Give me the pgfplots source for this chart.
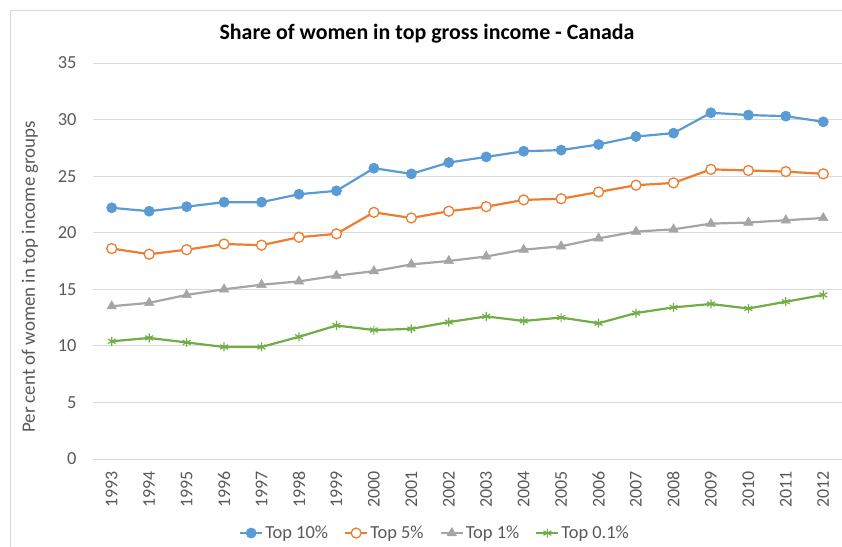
\documentclass[border=0pt]{standalone}
\usepackage{pgfplots}
\pgfplotsset{compat=1.18}
\usepackage{fontspec}
\setmainfont{Carlito}
\definecolor{cblue}{HTML}{5B9BD5}
\definecolor{corange}{HTML}{ED7D31}
\definecolor{cgray}{HTML}{A5A5A5}
\definecolor{cgreen}{HTML}{70AD47}
\definecolor{gridc}{HTML}{D9D9D9}
\definecolor{txt}{HTML}{595959}
\begin{document}
\begin{tikzpicture}[x=1bp,y=1bp]
\useasboundingbox (0,0) rectangle (842,547);
\draw[gridc, line width=0.8bp] (10.5,0) -- (10.5,536.5) -- (842,536.5);
\node[font=\fontsize{22}{26}\selectfont\bfseries, text=black] at (427,513) {Share of women in top gross income - Canada};
\begin{axis}[
  at={(93bp,88bp)}, anchor=origin,
  scale only axis, width=749bp, height=396bp,
  xmin=1992.5, xmax=2012.5, ymin=0, ymax=35,
  xtick={1993,...,2012}, ytick={0,5,...,35},
  axis line style={draw=none},
  major tick length=0pt, tick style={draw=none},
  xmajorgrids=false, ymajorgrids=true, grid style={draw=gridc, line width=0.8bp},
  /pgf/number format/assume math mode=true,
  /pgf/number format/1000 sep={},
  xticklabel style={font=\fontsize{18}{21}\selectfont, text=txt, rotate=90, anchor=east},
  yticklabel style={font=\fontsize{18.5}{22}\selectfont, text=txt},
  xticklabel shift=9bp,
  yticklabel shift=13bp,
  ylabel={Per cent of women in top income groups},
  ylabel style={font=\fontsize{19}{23}\selectfont, text=txt, at={(axis description cs:-0.084,0.46)}, anchor=center},
  clip=false,
  legend columns=4,
  legend style={at={(axis description cs:0.4566,-0.187)}, anchor=center, draw=none, fill=none,
    font=\fontsize{18.5}{21}\selectfont, text=txt, /tikz/every even column/.append style={column sep=14bp}},
  legend image code/.code={\draw[mark repeat=2,mark phase=2] plot coordinates {(0bp,0bp)(11bp,0bp)(22bp,0bp)};},
  every axis plot/.append style={line width=2.2bp},
]
\addplot[cblue, mark=*, mark size=5bp, mark options={solid, fill=cblue, draw=cblue, line width=0.8bp}] coordinates {
(1993,22.2)(1994,21.9)(1995,22.3)(1996,22.7)(1997,22.7)(1998,23.4)(1999,23.7)(2000,25.7)(2001,25.2)(2002,26.2)
(2003,26.7)(2004,27.2)(2005,27.3)(2006,27.8)(2007,28.5)(2008,28.8)(2009,30.6)(2010,30.4)(2011,30.3)(2012,29.8)};
\addlegendentry{Top 10\%}
\addplot[corange, mark=*, mark size=5bp, mark options={solid, fill=white, draw=corange, line width=1.3bp}] coordinates {
(1993,18.6)(1994,18.1)(1995,18.5)(1996,19.0)(1997,18.9)(1998,19.6)(1999,19.9)(2000,21.8)(2001,21.3)(2002,21.9)
(2003,22.3)(2004,22.9)(2005,23.0)(2006,23.6)(2007,24.2)(2008,24.4)(2009,25.6)(2010,25.5)(2011,25.4)(2012,25.2)};
\addlegendentry{Top 5\%}
\addplot[cgray, mark=triangle*, mark size=5.5bp, mark options={solid, fill=cgray, draw=cgray, line width=0.5bp}] coordinates {
(1993,13.5)(1994,13.8)(1995,14.5)(1996,15.0)(1997,15.4)(1998,15.7)(1999,16.2)(2000,16.6)(2001,17.2)(2002,17.5)
(2003,17.9)(2004,18.5)(2005,18.8)(2006,19.5)(2007,20.1)(2008,20.3)(2009,20.8)(2010,20.9)(2011,21.1)(2012,21.3)};
\addlegendentry{Top 1\%}
\addplot[cgreen, mark=asterisk, mark size=4.5bp, mark options={solid, draw=cgreen, line width=1.2bp}] coordinates {
(1993,10.4)(1994,10.7)(1995,10.3)(1996,9.9)(1997,9.9)(1998,10.8)(1999,11.8)(2000,11.4)(2001,11.5)(2002,12.1)
(2003,12.6)(2004,12.2)(2005,12.5)(2006,12.0)(2007,12.9)(2008,13.4)(2009,13.7)(2010,13.3)(2011,13.9)(2012,14.5)};
\addlegendentry{Top 0.1\%}
\end{axis}
\end{tikzpicture}
\end{document}
